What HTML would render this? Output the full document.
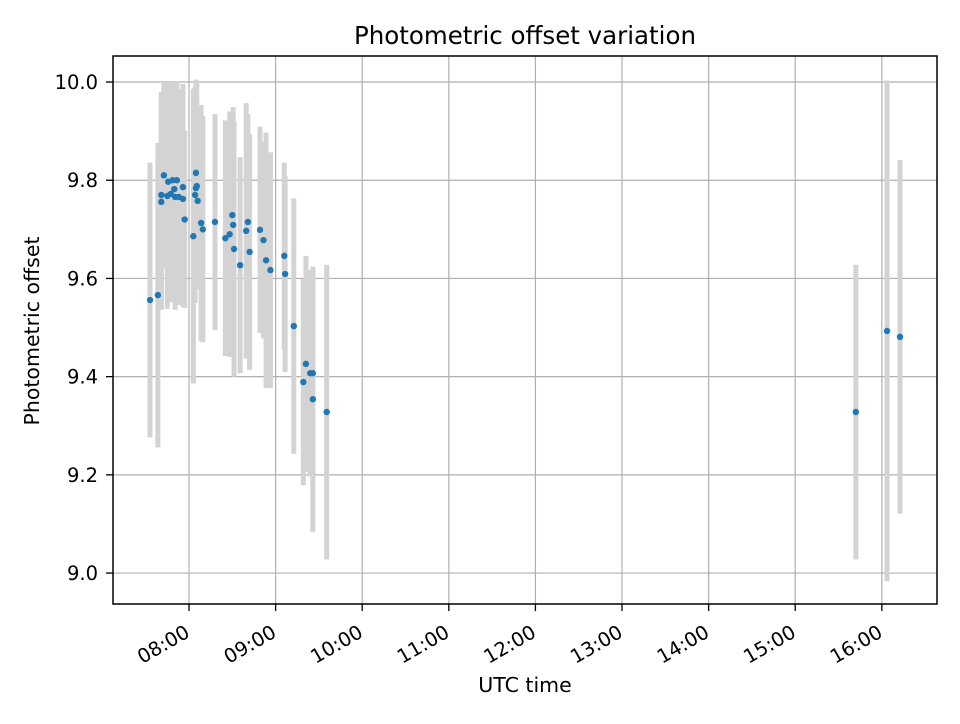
<!DOCTYPE html>
<html><head><meta charset="utf-8"><style>
body{margin:0;background:#fff;font-family:"DejaVu Sans","Liberation Sans",sans-serif}
</style></head><body>
<svg id="chart" width="960" height="720" xmlns="http://www.w3.org/2000/svg" font-family="DejaVu Sans, Liberation Sans, sans-serif">
<rect width="960" height="720" fill="#fff"/>
<g id="grid"></g>
<g id="bars"></g>
<g id="pts"></g>
<rect x="113" y="56" width="824" height="548" fill="none" stroke="#000" stroke-width="1.5"/>
<g id="ticks"></g>
<text x="525" y="44" font-size="24.5" text-anchor="middle">Photometric offset variation</text>
<text x="525" y="692" font-size="20.5" text-anchor="middle">UTC time</text>
<text x="39" y="331" font-size="20.5" text-anchor="middle" transform="rotate(-90 39 331)">Photometric offset</text>
</svg>
<script>
const times=[7.55,7.64,7.68,7.68,7.71,7.75,7.76,7.79,7.81,7.83,7.84,7.86,7.88,7.93,7.93,7.95,8.05,8.08,8.08,8.09,8.07,8.10,8.14,8.16,8.30,8.42,8.47,8.50,8.51,8.52,8.59,8.66,8.68,8.70,8.82,8.86,8.89,8.94,9.10,9.11,9.21,9.32,9.35,9.40,9.43,9.43,9.59,15.70,16.06,16.21];
const offsets=[9.556,9.566,9.756,9.770,9.810,9.768,9.797,9.772,9.800,9.782,9.766,9.800,9.766,9.762,9.786,9.720,9.686,9.815,9.784,9.788,9.770,9.758,9.713,9.700,9.715,9.682,9.690,9.729,9.709,9.660,9.627,9.697,9.715,9.654,9.699,9.678,9.637,9.617,9.646,9.609,9.503,9.389,9.426,9.407,9.407,9.354,9.328,9.328,9.493,9.481];
const errors=[0.28,0.31,0.22,0.21,0.19,0.23,0.20,0.22,0.20,0.21,0.23,0.20,0.22,0.22,0.21,0.18,0.30,0.19,0.20,0.21,0.22,0.18,0.24,0.23,0.22,0.24,0.25,0.21,0.24,0.26,0.22,0.26,0.22,0.24,0.21,0.20,0.26,0.24,0.19,0.20,0.26,0.21,0.22,0.21,0.21,0.27,0.30,0.30,0.51,0.36];
const yTicks=[9.0,9.2,9.4,9.6,9.8,10.0];
const yTickLabels=["9.0","9.2","9.4","9.6","9.8","10.0"];
const xTicks=[8,9,10,11,12,13,14,15,16];
const xTickLabels=["08:00","09:00","10:00","11:00","12:00","13:00","14:00","15:00","16:00"];
const L=113,R=937,T=56,B=604;
const xMin=7.1224,xMax=16.637,yMin=8.937,yMax=10.053;
const X=h=>L+(h-xMin)/(xMax-xMin)*(R-L);
const Y=v=>B-(v-yMin)/(yMax-yMin)*(B-T);
const NS="http://www.w3.org/2000/svg";
function mk(tag,attrs,parent){const e=document.createElementNS(NS,tag);for(const k in attrs)e.setAttribute(k,attrs[k]);document.getElementById(parent).appendChild(e);return e;}
yTicks.forEach((v,i)=>{
  const g=mk('line',{x1:L,x2:R,y1:Y(v),y2:Y(v),stroke:'#b0b0b0','stroke-width':1.2},'grid');
  
  
  const t=mk('line',{x1:L-7,x2:L,y1:Y(v),y2:Y(v),stroke:'#000','stroke-width':1.3},'ticks');
  
  
  const l=mk('text',{x:L-15,y:Y(v)+7,'font-size':19.5,'text-anchor':'end'},'ticks');
  l.textContent=yTickLabels[i];
  
  
});
xTicks.forEach((h,i)=>{
  const x=X(h);
  const g=mk('line',{x1:x,x2:x,y1:T,y2:B,stroke:'#b0b0b0','stroke-width':1.2},'grid');
  
  
  const t=mk('line',{x1:x,x2:x,y1:B,y2:B+7,stroke:'#000','stroke-width':1.3},'ticks');
  
  
  const ax=x+2, ay=B+32;
  const l=mk('text',{x:ax,y:ay,'font-size':19.5,'text-anchor':'end',transform:`rotate(-30 ${ax} ${ay})`},'ticks');
  l.textContent=xTickLabels[i];
  
  
});
times.forEach((h,i)=>{
  const x=X(h);
  const b=mk('line',{x1:x,x2:x,y1:Y(offsets[i]+errors[i]),y2:Y(offsets[i]-errors[i]),stroke:'#d3d3d3','stroke-width':5},'bars');
  
  
});
times.forEach((h,i)=>{
  const p=mk('circle',{cx:X(h),cy:Y(offsets[i]),r:3.2,fill:'#1f77b4'},'pts');
  
  
});
</script>
</body></html>
